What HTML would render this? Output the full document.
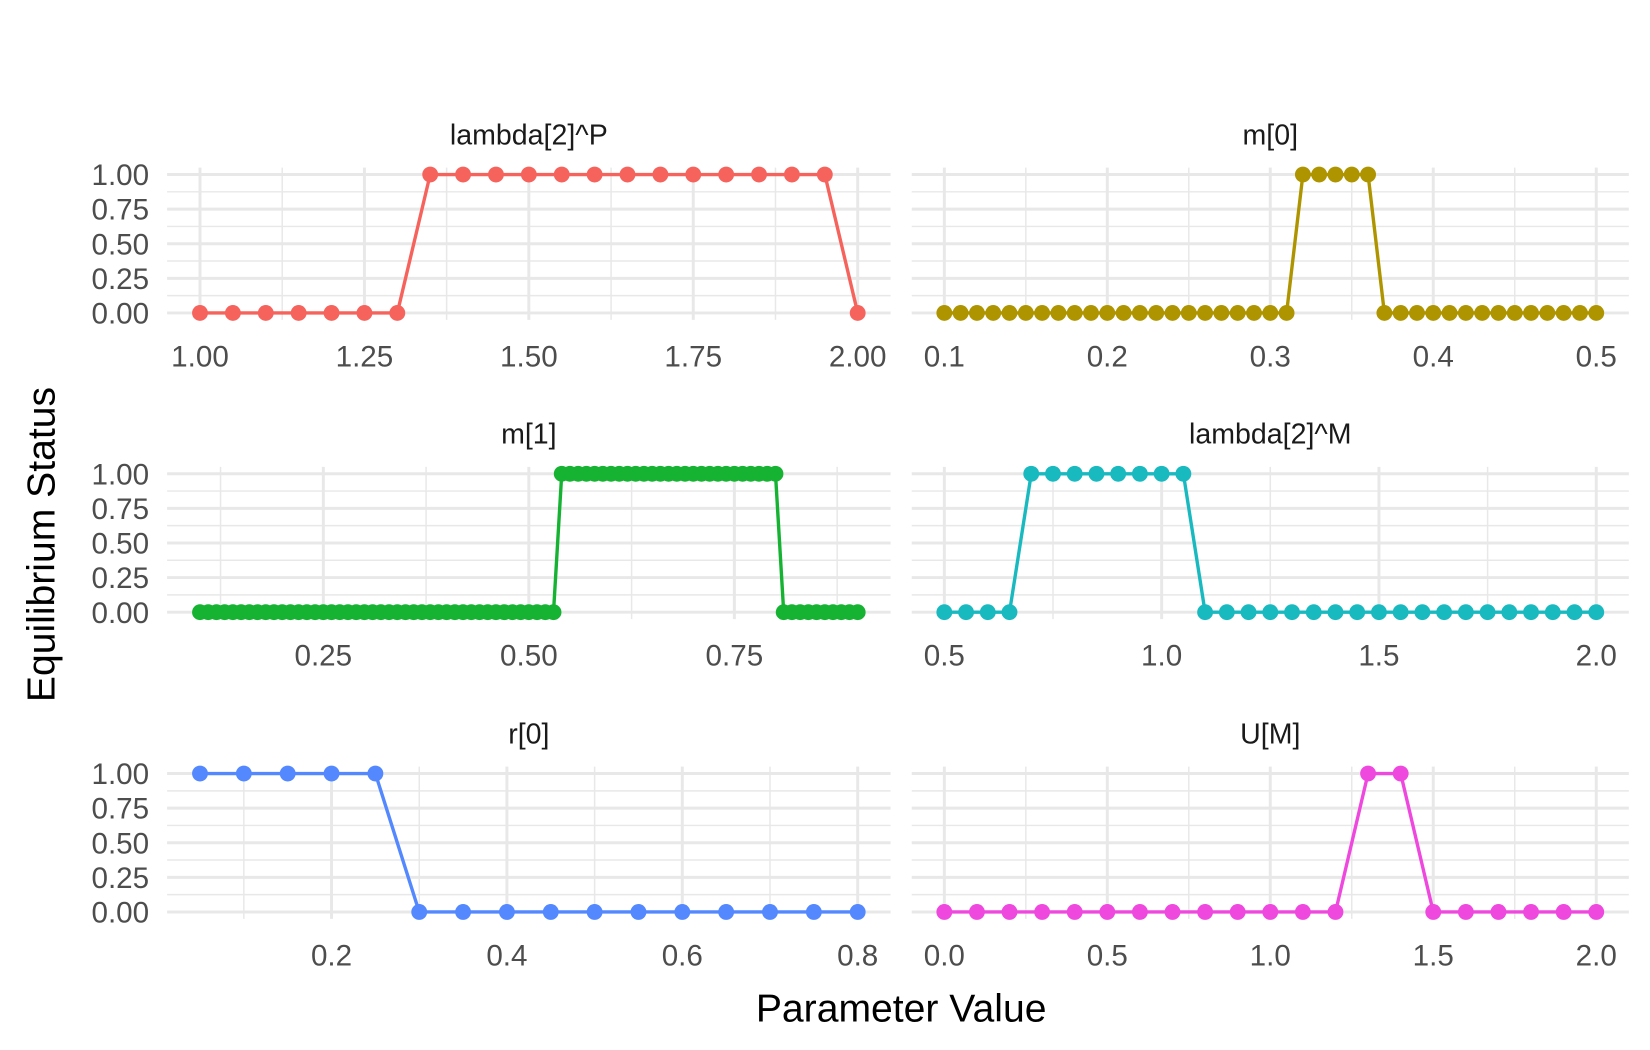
<!DOCTYPE html>
<html><head><meta charset="utf-8"><style>
html,body{margin:0;padding:0;background:#fff;}
svg{display:block;font-family:"Liberation Sans",Arial,sans-serif;}
</style></head><body>
<svg id="chart" width="1650" height="1050" viewBox="0 0 1560 993" preserveAspectRatio="none" xmlns="http://www.w3.org/2000/svg">
<rect x="0" y="0" width="1560" height="993" fill="#fff"/>
<g id="panels"></g>
<text x="42" y="515" font-size="37" fill="#000" text-anchor="middle" transform="rotate(-90 42 515)" dominant-baseline="middle">Equilibrium Status</text>
<text x="852" y="966" font-size="37" fill="#000" text-anchor="middle">Parameter Value</text>
</svg>
<script>
// ---- data ----
const titles = ["lambda[2]^P","m[0]","m[1]","lambda[2]^M","r[0]","U[M]"];
const colors = ["#F5635C","#AE9500","#16B232","#19B9C0","#5388FF","#EE48DE"];
const xStart = [1.00, 0.10, 0.10, 0.50, 0.05, 0.0];
const xStep  = [0.05, 0.01, 0.01, 0.05, 0.05, 0.1];
const statusLambda2P = [0,0,0,0,0,0,0,1,1,1,1,1,1,1,1,1,1,1,1,1,0];
const statusM0 = [0,0,0,0,0,0,0,0,0,0,0,0,0,0,0,0,0,0,0,0,0,0,1,1,1,1,1,0,0,0,0,0,0,0,0,0,0,0,0,0,0];
const statusM1 = [0,0,0,0,0,0,0,0,0,0,0,0,0,0,0,0,0,0,0,0,0,0,0,0,0,0,0,0,0,0,0,0,0,0,0,0,0,0,0,0,0,0,0,0,1,1,1,1,1,1,1,1,1,1,1,1,1,1,1,1,1,1,1,1,1,1,1,1,1,1,1,0,0,0,0,0,0,0,0,0,0];
const statusLambda2M = [0,0,0,0,1,1,1,1,1,1,1,1,0,0,0,0,0,0,0,0,0,0,0,0,0,0,0,0,0,0,0];
const statusR0 = [1,1,1,1,1,0,0,0,0,0,0,0,0,0,0,0];
const statusUM = [0,0,0,0,0,0,0,0,0,0,0,0,0,1,1,0,0,0,0,0,0];
const xTicks = [[1.00,1.25,1.50,1.75,2.00],[0.1,0.2,0.3,0.4,0.5],[0.25,0.50,0.75],[0.5,1.0,1.5,2.0],[0.2,0.4,0.6,0.8],[0.0,0.5,1.0,1.5,2.0]];
const xTickLabels = [["1.00","1.25","1.50","1.75","2.00"],["0.1","0.2","0.3","0.4","0.5"],["0.25","0.50","0.75"],["0.5","1.0","1.5","2.0"],["0.2","0.4","0.6","0.8"],["0.0","0.5","1.0","1.5","2.0"]];
const yTicks = [0,0.25,0.5,0.75,1];
const yTickLabels = ["0.00","0.25","0.50","0.75","1.00"];
const statuses = [statusLambda2P, statusM0, statusM1, statusLambda2M, statusR0, statusUM];

// ---- layout ----
const colX = [[158,842],[862,1540]];
const rowY = [[158.5,302.5],[441.5,585.5],[725,869]];
const NS="http://www.w3.org/2000/svg";
const root=document.getElementById('panels');
function mk(tag,attrs,parent){const e=document.createElementNS(NS,tag);for(const k in attrs)e.setAttribute(k,attrs[k]);(parent||root).appendChild(e);return e;}

for(let p=0;p<6;p++){
  const col=p%2,row=Math.floor(p/2);
  const [x0,x1]=colX[col],[y0,y1]=rowY[row];
  const vals=statuses[p];
  const xs=vals.map((v,i)=>+(xStart[p]+i*xStep[p]).toFixed(4));
  const dmin=Math.min(...xs),dmax=Math.max(...xs),pad=(dmax-dmin)*0.05;
  const sx=v=>x0+(v-(dmin-pad))/((dmax+pad)-(dmin-pad))*(x1-x0);
  const sy=v=>y1-(v+0.05)/1.1*(y1-y0);
  const g=mk('g',{});
  
  
  for(let k=0;k<yTicks.length;k++){
    const l=mk('line',{x1:x0,x2:x1,y1:sy(yTicks[k]),y2:sy(yTicks[k]),stroke:'#e8e8e8','stroke-width':2.8},g);
    
    
    if(k<yTicks.length-1){const ym=(yTicks[k]+yTicks[k+1])/2;
      const m=mk('line',{x1:x0,x2:x1,y1:sy(ym),y2:sy(ym),stroke:'#e8e8e8','stroke-width':1.4},g);
      
      }
  }
  const t=xTicks[p];const st=t.length>1?t[1]-t[0]:0.25;
  let minors=[];for(let v=t[0]-st/2;v<=dmax+pad;v+=st){if(v>=dmin-pad)minors.push(v);}
  minors.forEach(v=>{const m=mk('line',{x1:sx(v),x2:sx(v),y1:y0,y2:y1,stroke:'#e8e8e8','stroke-width':1.4},g);
    
    });
  t.forEach((v,k)=>{const l=mk('line',{x1:sx(v),x2:sx(v),y1:y0,y2:y1,stroke:'#e8e8e8','stroke-width':2.8},g);
    
    
    const tx=mk('text',{x:sx(v),y:y1+44,'font-size':28,fill:'#4d4d4d','text-anchor':'middle'},g);
    tx.textContent=xTickLabels[p][k];
    
    });
  if(col===0){yTicks.forEach((v,k)=>{const tx=mk('text',{x:141,y:sy(v)+10,'font-size':28,fill:'#4d4d4d','text-anchor':'end'},g);
    tx.textContent=yTickLabels[k];
    
    });}
  const tt=mk('text',{x:(x0+x1)/2,y:y0-22,'font-size':27,fill:'#1a1a1a','text-anchor':'middle'},g);
  tt.textContent=titles[p];
  
  
  const pts=xs.map((x,i)=>sx(x).toFixed(2)+','+sy(vals[i]).toFixed(2)).join(' ');
  const pl=mk('polyline',{points:pts,fill:'none',stroke:colors[p],'stroke-width':3.2,'stroke-linejoin':'round'},g);
  
  
  xs.forEach((x,i)=>{const c=mk('circle',{cx:sx(x),cy:sy(vals[i]),r:7.5,fill:colors[p]},g);
    
    });
}
</script>
</body></html>
